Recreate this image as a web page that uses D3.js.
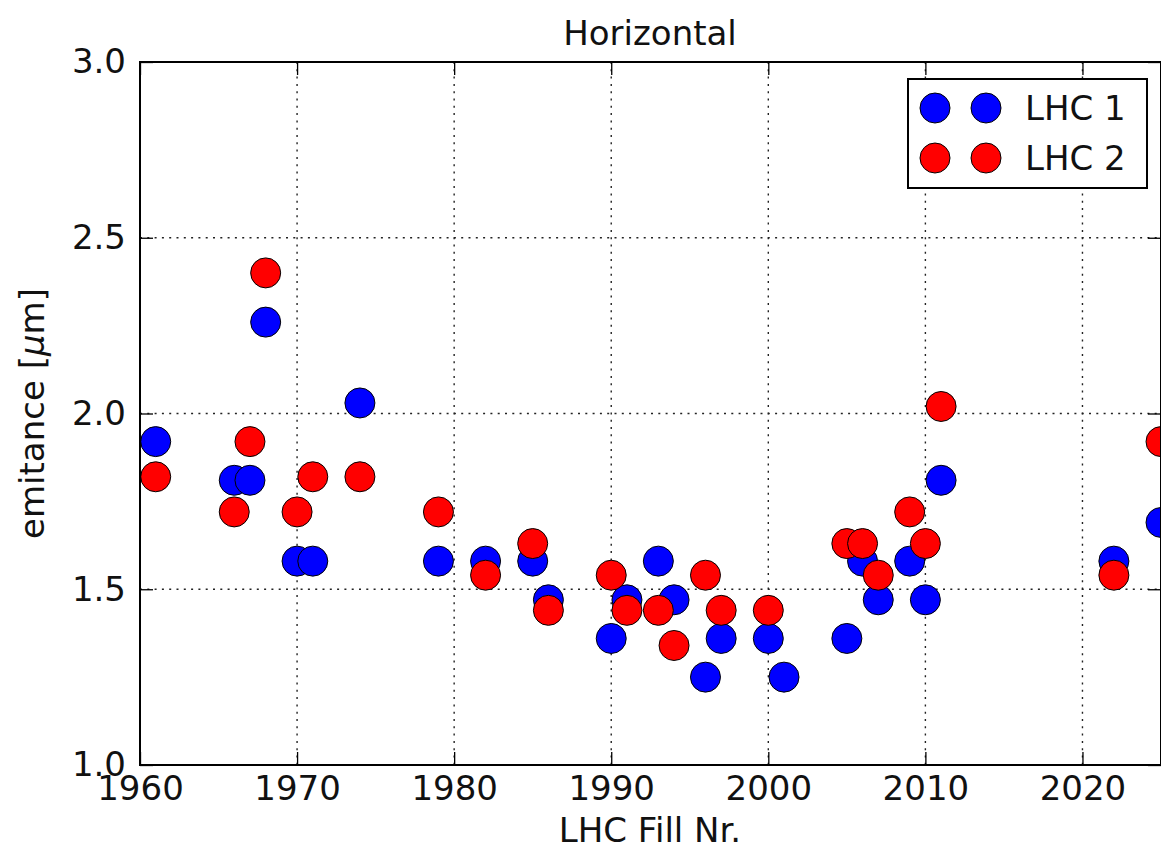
<!DOCTYPE html>
<html lang="en">
<head>
  <meta charset="UTF-8">
  <title>Horizontal emittance</title>
  <style>
    body { margin: 0; background: #fff; }
    svg { display: block; font-family: "DejaVu Sans", sans-serif; }
    .grid line { stroke: #222; stroke-width: 1.4; stroke-dasharray: 2, 5.3; }
  </style>
</head>
<body>
  <svg width="1161" height="848"></svg>
  <script src="https://cdn.jsdelivr.net/npm/d3@7"></script>
  <script>
    // data
    var fills1 = [1961, 1966, 1967, 1968, 1970, 1971, 1974, 1979, 1982, 1985, 1986, 1990, 1991, 1993, 1994, 1996, 1997, 2000, 2001, 2005, 2006, 2007, 2009, 2010, 2011, 2022, 2025];
    var emit1 = [1.92, 1.81, 1.81, 2.26, 1.58, 1.58, 2.03, 1.58, 1.58, 1.58, 1.47, 1.36, 1.47, 1.58, 1.47, 1.25, 1.36, 1.36, 1.25, 1.36, 1.58, 1.47, 1.58, 1.47, 1.81, 1.58, 1.69];
    var fills2 = [1961, 1966, 1967, 1968, 1970, 1971, 1974, 1979, 1982, 1985, 1986, 1990, 1991, 1993, 1994, 1996, 1997, 2000, 2005, 2006, 2007, 2009, 2010, 2011, 2022, 2025];
    var emit2 = [1.82, 1.72, 1.92, 2.40, 1.72, 1.82, 1.82, 1.72, 1.54, 1.63, 1.44, 1.54, 1.44, 1.44, 1.34, 1.54, 1.44, 1.44, 1.63, 1.63, 1.54, 1.72, 1.63, 2.02, 1.54, 1.92];
    var xTicks = [1960, 1970, 1980, 1990, 2000, 2010, 2020];
    var yTicks = [1.0, 1.5, 2.0, 2.5, 3.0];

    var series = [
      { name: "LHC 1", color: "#0000ff", x: fills1, y: emit1 },
      { name: "LHC 2", color: "#ff0000", x: fills2, y: emit2 }
    ];

    var svg = d3.select("svg");
    var pLeft = 140, pRight = 1161, pTop = 62, pBottom = 765;

    var x = d3.scaleLinear().domain([1960, 2025]).range([pLeft, pRight]);
    var y = d3.scaleLinear().domain([1.0, 3.0]).range([pBottom, pTop]);

    // grid
    var grid = svg.append("g").attr("class", "grid");
    grid.selectAll(".gx").data(xTicks.slice(1)).enter().append("line")
      .attr("x1", d => x(d)).attr("x2", d => x(d))
      .attr("y1", pTop).attr("y2", pBottom);
    grid.selectAll(".gy").data(yTicks.slice(1, -1)).enter().append("line")
      .attr("x1", pLeft).attr("x2", pRight)
      .attr("y1", d => y(d)).attr("y2", d => y(d));

    // axes with inward ticks on every side
    var fontSize = "34px";
    var xAxis = svg.append("g").attr("transform", "translate(0," + pBottom + ")")
      .call(d3.axisBottom(x).tickValues(xTicks).tickFormat(d3.format("d")).tickSizeInner(-13).tickSizeOuter(0).tickPadding(14));
    var yAxis = svg.append("g").attr("transform", "translate(" + pLeft + ",0)")
      .call(d3.axisLeft(y).tickValues(yTicks).tickFormat(d3.format(".1f")).tickSizeInner(-13).tickSizeOuter(0).tickPadding(14));
    var xTop = svg.append("g").attr("transform", "translate(0," + pTop + ")")
      .call(d3.axisTop(x).tickValues(xTicks).tickFormat("").tickSizeInner(-13).tickSizeOuter(0));
    var yRight = svg.append("g").attr("transform", "translate(" + pRight + ",0)")
      .call(d3.axisRight(y).tickValues(yTicks).tickFormat("").tickSizeInner(-13).tickSizeOuter(0));

    [xAxis, yAxis, xTop, yRight].forEach(function (g) {
      g.select(".domain").remove();
      g.selectAll(".tick line").attr("stroke", "#000").attr("stroke-width", 1.3);
      g.selectAll("text").attr("font-size", fontSize).attr("font-family", "DejaVu Sans").attr("fill", "#111");
    });
    xAxis.selectAll("text").attr("dy", "0.62em");

    // points
    series.forEach(function (s) {
      svg.append("g").selectAll("circle")
        .data(s.x.map((v, i) => ({ fill: v, e: s.y[i] })))
        .enter().append("circle")
        .attr("cx", d => x(d.fill))
        .attr("cy", d => y(d.e))
        .attr("r", 15)
        .attr("fill", s.color)
        .attr("stroke", "#000")
        .attr("stroke-width", 1);
    });

    // frame
    svg.append("rect")
      .attr("x", pLeft).attr("y", pTop)
      .attr("width", pRight - pLeft).attr("height", pBottom - pTop)
      .attr("fill", "none").attr("stroke", "#000").attr("stroke-width", 2);

    // titles
    svg.append("text").attr("x", 650).attr("y", 45)
      .attr("text-anchor", "middle").attr("font-size", "34px").attr("fill", "#111").text("Horizontal");
    svg.append("text").attr("x", 650).attr("y", 842)
      .attr("text-anchor", "middle").attr("font-size", "34px").attr("fill", "#111").text("LHC Fill Nr.");
    var yl = svg.append("text")
      .attr("transform", "translate(44," + (pTop + pBottom) / 2 + ") rotate(-90)")
      .attr("text-anchor", "middle").attr("font-size", "34px").attr("fill", "#111");
    yl.append("tspan").text("emitance [");
    yl.append("tspan").attr("font-style", "italic").text("μ");
    yl.append("tspan").text("m]");

    // legend
    var lg = svg.append("g");
    lg.append("rect").attr("x", 908).attr("y", 79).attr("width", 239).attr("height", 109)
      .attr("fill", "#fff").attr("stroke", "#000").attr("stroke-width", 2);
    series.forEach(function (s, i) {
      var cy = 108 + i * 50;
      [935, 986].forEach(function (cx) {
        lg.append("circle").attr("cx", cx).attr("cy", cy).attr("r", 15)
          .attr("fill", s.color).attr("stroke", "#000").attr("stroke-width", 1);
      });
      lg.append("text").attr("x", 1025).attr("y", cy + 12)
        .attr("font-size", "34px").attr("fill", "#111").text(s.name);
    });
  </script>
</body>
</html>
